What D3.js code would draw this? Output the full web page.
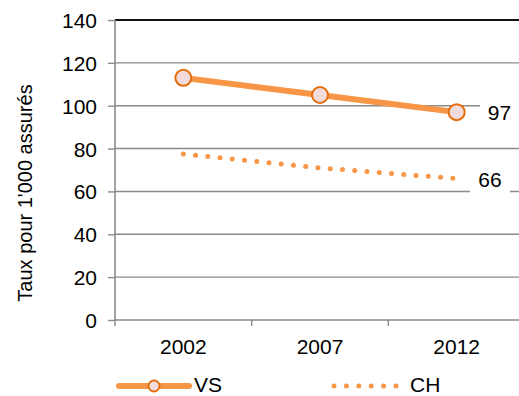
<!DOCTYPE html>
<html><head><meta charset="utf-8">
<script src="https://cdn.jsdelivr.net/npm/d3@7"></script>
<style>body{margin:0;background:#fff}svg{display:block;font-family:"Liberation Sans",Arial,sans-serif}</style>
</head><body><svg id="c" width="519" height="396"></svg>
<script>
const years = ["2002","2007","2012"];
const vsValues = [113, 105, 97];
const chValues = [77.5, 71, 66];
const yTicks = [0,20,40,60,80,100,120,140];
const seriesNames = ["VS","CH"];

const svg = d3.select("#c");
const x = d3.scaleBand().domain(years).range([115, 525]);
const y = d3.scaleLinear().domain([0,140]).range([320, 20]);
const grid = "#8a8a8a";
const FS = 21;

// gridlines
svg.append("g").selectAll("line").data(yTicks.filter(t=>t>0)).join("line")
  .attr("x1",115).attr("x2",519).attr("y1",d=>y(d)).attr("y2",d=>y(d))
  .attr("stroke",d=>d===140?"#111":grid).attr("stroke-width",d=>d===140?2:1.4);

// y axis
const ya = svg.append("g").attr("transform","translate(115,0)")
  .call(d3.axisLeft(y).tickValues(yTicks).tickSize(7).tickPadding(11));
ya.select(".domain").attr("stroke",grid).attr("stroke-width",1.6).attr("d","M0,20V320");
ya.selectAll(".tick line").attr("stroke",grid).attr("stroke-width",1.4);
ya.selectAll("text").attr("font-size",FS).attr("fill","#000").attr("font-family","Liberation Sans, Arial").attr("dy","0.36em");

// x axis
const xa = svg.append("g").attr("transform","translate(0,320)")
  .call(d3.axisBottom(x).tickSize(0).tickPadding(0));
xa.select(".domain").attr("stroke",grid).attr("stroke-width",1.6).attr("d","M115,0H519");
xa.selectAll("text").attr("font-size",FS).attr("fill","#000").attr("font-family","Liberation Sans, Arial")
  .attr("y",34).attr("dy",0);
svg.append("g").selectAll("line").data(years).join("line")
  .attr("x1",d=>x(d)).attr("x2",d=>x(d)).attr("y1",320).attr("y2",326)
  .attr("stroke",grid).attr("stroke-width",1.4);

// y title
svg.append("text").attr("transform","translate(32,193) rotate(-90)")
  .attr("text-anchor","middle").attr("font-size",20).text("Taux pour 1'000 assurés");

const cx = d => x(d) + x.bandwidth()/2;
const line = d3.line().x(d=>cx(d.year)).y(d=>y(d.v));
const vsData = years.map((yr,i)=>({year:yr,v:vsValues[i]}));
const chData = years.map((yr,i)=>({year:yr,v:chValues[i]}));

// data labels with white boxes
const labels = [{t:String(Math.round(vsValues[2])), v:vsValues[2], x:499.5, bx:480, bw:39},
                {t:String(Math.round(chValues[2])), v:chValues[2], x:490, bx:470, bw:40}];
labels.forEach(l=>{
  svg.append("rect").attr("x",l.bx).attr("y",y(l.v)-16).attr("width",l.bw).attr("height",32).attr("fill","#fff");
  svg.append("text").attr("x",l.x).attr("y",y(l.v)+8).attr("text-anchor","middle").attr("font-size",FS).text(l.t);
});

// CH dotted
svg.append("path").datum(chData).attr("d",line).attr("fill","none")
  .attr("stroke","#F79646").attr("stroke-width",5).attr("stroke-linecap","round").attr("stroke-dasharray","0,12.3");

// VS
svg.append("path").datum(vsData).attr("d",line).attr("fill","none")
  .attr("stroke","#F79646").attr("stroke-width",6);
svg.append("g").selectAll("circle").data(vsData).join("circle")
  .attr("cx",d=>cx(d.year)).attr("cy",d=>y(d.v)).attr("r",8)
  .attr("fill","#F2DCDB").attr("stroke","#E46C0A").attr("stroke-width",2);

// legend
const lg = svg.append("g");
lg.append("line").attr("x1",119).attr("x2",189).attr("y1",386).attr("y2",386)
  .attr("stroke","#F79646").attr("stroke-width",6).attr("stroke-linecap","round");
lg.append("circle").attr("cx",154).attr("cy",386).attr("r",5.5).attr("fill","#F2DCDB").attr("stroke","#E46C0A").attr("stroke-width",1.8);
lg.append("text").attr("x",194).attr("y",391.5).attr("font-size",FS).text(seriesNames[0]);
lg.append("line").attr("x1",334).attr("x2",397).attr("y1",386).attr("y2",386)
  .attr("stroke","#F79646").attr("stroke-width",5).attr("stroke-linecap","round").attr("stroke-dasharray","0,12.4");
lg.append("text").attr("x",410).attr("y",391.5).attr("font-size",FS).text(seriesNames[1]);
</script></body></html>
